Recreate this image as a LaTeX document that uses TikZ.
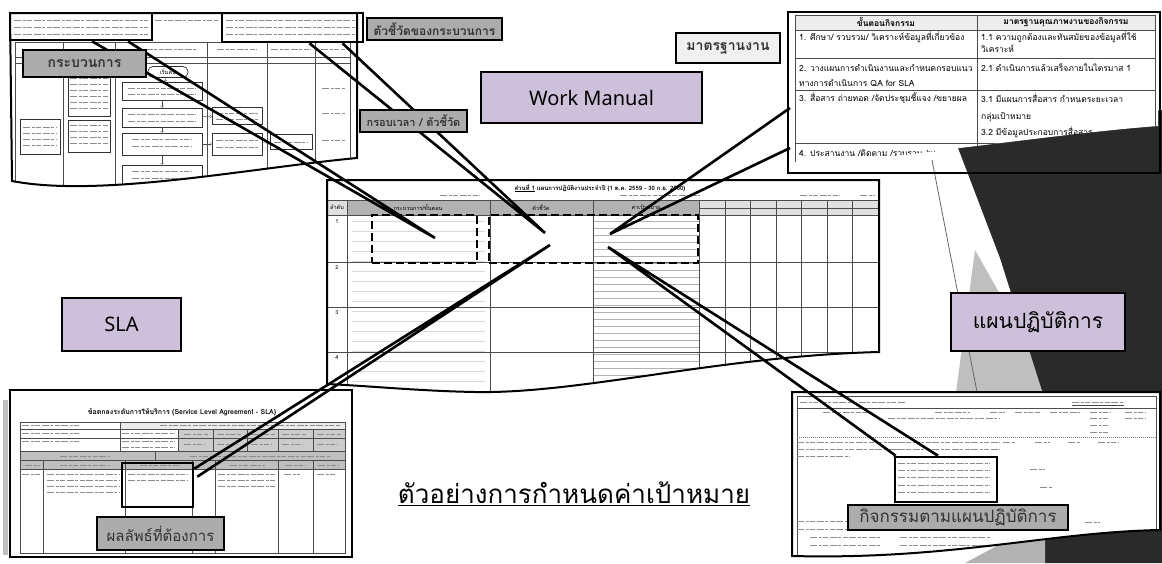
\documentclass[tikz,border=0pt]{standalone}
\usepackage{fontspec}
\setmainfont{Noto Sans}
\newfontfamily\thai[Script=Thai]{Loma}
\usetikzlibrary{positioning}

\definecolor{lavender}{RGB}{205,192,218}
\definecolor{labelgray}{RGB}{172,172,172}
\definecolor{slidedark}{RGB}{42,42,42}

\tikzset{
  docframe/.style={draw=black,line width=2pt},
  hlbox/.style={draw=black,line width=2.6pt,inner sep=0pt},
  dashbox/.style={draw=black,line width=2.2pt,dash pattern=on 8pt off 4pt,inner sep=0pt},
  graylabel/.style={draw=black,line width=2pt,fill=labelgray,inner sep=0pt,text=black!80},
  purplebox/.style={draw=black,line width=1.3pt,fill=lavender,inner sep=0pt},
  pointer/.style={draw=black,line width=2.6pt},
  rule/.style={black!70,line width=0.5pt},
  flowbox/.style={draw=black!80,line width=0.7pt,inner sep=0pt},
  scrawl/.style={black!45,line width=0.8pt,dash pattern=on 7pt off 1.5pt on 3pt off 1.5pt on 5pt off 1.5pt},
  fineprint/.style={inner sep=0pt,font=\thai\fontsize{5.5}{6}\selectfont},
  cell/.style={inner sep=0pt,anchor=west,font=\thai\fontsize{8.5}{9}\selectfont},
}

% rows of unreadable print: x from, x to, list of y
\newcommand{\scanlines}[3]{\foreach \yy in {#3}{\draw[scrawl] (#1,\yy) -- (#2,\yy);}}

\begin{document}
\begin{tikzpicture}[x=1pt,y=-1pt]
  \useasboundingbox (0,0) rectangle (1162,563);
  \fill[white] (0,0) rectangle (1162,563);

  % Slide background on the right.
  \fill[black!25] (975,250) -- (1060,400) -- (955,400) -- cycle;
  \fill[slidedark] (955,140) -- (1162,110) -- (1162,563) -- (1045,563) -- (1045,400) -- (1000,258) -- cycle;
  \fill[black!30] (965,563) -- (1045,563) -- (1045,520) -- cycle;
  \draw[black!60,line width=0.8pt] (932,160) -- (977,392);

  % Workflow sheet.
  \def\flowsheet{(10,13) -- (357,13) -- (357,158) .. controls (250,168) and (100,198) .. (12,181) -- cycle}
  \fill[white] \flowsheet;
  \begin{scope}
    \clip \flowsheet;
    \foreach \x in {15,63,115,207,267,315,350}
      \draw[rule] (\x,42) -- (\x,200);
    \foreach \y in {42,57,63}
      \draw[rule] (15,\y) -- (350,\y);
    \scanlines{14}{148}{20,27,34}
    \scanlines{226}{358}{20,27,34}
    \scanlines{155}{218}{20}
    \foreach \x/\w in {39/14,89/18,161/35,237/20,291/20,333/12}
      \draw[scrawl] (\x-\w,49) -- (\x+\w,49);
    \node[flowbox,rounded corners=5pt,minimum width=40pt,minimum height=11pt,fineprint] (start) at (168,72) {เริ่มต้น};
    \foreach \y/\h [count=\i] in {91/18,117.5/19,144/22,178/26}
      \node[flowbox,minimum width=80pt,minimum height=\h pt] (task\i) at (162,\y) {};
    \draw[->,black!70] (start) -- (task1);
    \draw[->,black!70] (task1) -- (task2);
    \draw[->,black!70] (task2) -- (task3);
    \draw[->,black!70] (task3) -- (task4);
    \scanlines{128}{196}{88,94}
    \scanlines{128}{196}{114,121}
    \scanlines{132}{192}{139,146}
    \scanlines{132}{192}{171,178}
    \node[flowbox,minimum width=50pt,minimum height=17pt] (out1) at (237,116) {};
    \node[flowbox,minimum width=50pt,minimum height=22pt] (out2) at (237,144) {};
    \node[flowbox,minimum width=42pt,minimum height=15pt] (cond1) at (291,142) {};
    \draw[->,black!70] (task2) -- (out1);
    \draw[->,black!70] (task3) -- (out2);
    \draw[->,black!70] (out2) -- (cond1);
    \scanlines{216}{258}{113,119}
    \scanlines{216}{258}{140,147}
    \scanlines{274}{308}{142}
    \node[flowbox,minimum width=40pt,minimum height=35pt] (input) at (40,137) {};
    \scanlines{23}{57}{127,133,139,145}
    \draw[flowbox] (68,72) rectangle (110,116);
    \scanlines{70}{108}{78,84,90,96,102,108}
    \draw[flowbox] (68,120) rectangle (110,152);
    \scanlines{70}{108}{125,131,137,143}
    \scanlines{322}{345}{88,113,140}
  \end{scope}
  \draw[docframe] \flowsheet;

  % Standards sheet.
  \def\stdsheet{(790,13) -- (1158,13) -- (1158,126) .. controls (1040,135) and (900,160) .. (792,162) -- cycle}
  \fill[white] \stdsheet;
  \begin{scope}
    \clip \stdsheet;
    \fill[black!7] (795,15) rectangle (1155,30);
    \draw[rule] (795,15) rectangle (1155,200);
    \foreach \y in {30,58,90,143}
      \draw[rule] (795,\y) -- (1155,\y);
    \draw[rule] (977,15) -- (977,200);
    \node[cell,anchor=center,font=\thai\bfseries\fontsize{8.5}{9}\selectfont] (stdHeadA) at (886,22.5) {ขั้นตอนกิจกรรม};
    \node[cell,anchor=center,font=\thai\bfseries\fontsize{8.5}{9}\selectfont] (stdHeadB) at (1066,22.5) {มาตรฐานคุณภาพงานของกิจกรรม};
    \node[cell] (stdA1) at (799,37) {1. ศึกษา/ รวบรวม/ วิเคราะห์ข้อมูลที่เกี่ยวข้อง};
    \node[cell] (stdB1) at (981,37) {1.1 ความถูกต้องและทันสมัยของข้อมูลที่ใช้};
    \node[cell] (stdB1b) at (981,49) {วิเคราะห์};
    \node[cell] (stdA2) at (799,68) {2. วางแผนการดำเนินงานและกำหนดกรอบแนว};
    \node[cell] (stdA2b) at (799,83) {ทางการดำเนินการ QA for SLA};
    \node[cell] (stdB2) at (981,68) {2.1 ดำเนินการแล้วเสร็จภายในไตรมาส 1};
    \node[cell] (stdA3) at (799,98) {3. สื่อสาร ถ่ายทอด /จัดประชุมชี้แจง /ขยายผล};
    \node[cell] (stdB3) at (981,98) {3.1 มีแผนการสื่อสาร กำหนดระยะเวลา};
    \node[cell] (stdB3b) at (981,117) {กลุ่มเป้าหมาย};
    \node[cell] (stdB3c) at (981,132) {3.2 มีข้อมูลประกอบการสื่อสาร};
    \node[cell] (stdA4) at (799,153) {4. ประสานงาน /ติดตาม /รวบรวม /ผลการดำเนินงาน};
  \end{scope}
  \draw[docframe] (788,12) rectangle (1160,173);

  % Annual plan sheet.
  \def\plansheet{(327,180) -- (879,180) -- (879,352) .. controls (720,356) and (580,394) .. (475,392) .. controls (420,391) and (370,386) .. (327,384) -- cycle}
  \fill[white] \plansheet;
  \begin{scope}
    \clip \plansheet;
    \fill[black!30] (347,200) rectangle (699,215);
    \fill[black!12] (327,200) rectangle (347,215) (699,200) rectangle (879,215);
    \foreach \y in {221,228,...,400}
      \draw[black!30,line width=0.4pt] (593,\y) -- (699,\y);
    \foreach \y in {221,231,...,400}
      \draw[black!15,line width=0.6pt] (352,\y) -- (485,\y);
    \foreach \x in {347,490,593,699,725,750,776,801,827,852}
      \draw[rule] (\x,200) -- (\x,400);
    \foreach \y in {200,215,262,307,352}
      \draw[rule] (327,\y) -- (879,\y);
    \draw[rule] (699,208) -- (879,208);
    \node[fineprint,font=\thai\bfseries\fontsize{6}{6}\selectfont] (planTitle) at (600,188) {\underline{ส่วนที่ 1} แผนการปฏิบัติงานประจำปี (1 ต.ค. 2559 - 30 ก.ย. 2560)};
    \scanlines{440}{480}{195}
    \scanlines{620}{700}{195}
    \scanlines{800}{840}{195}
    \scanlines{860}{875}{195}
    \node[fineprint] (hNo) at (337,207.5) {ลำดับ};
    \node[fineprint] (hProc) at (418,207.5) {กระบวนการ/ขั้นตอน};
    \node[fineprint] (hKpi) at (541,207.5) {ตัวชี้วัด};
    \node[fineprint] (hTarget) at (646,207.5) {ค่าเป้าหมาย};
    \foreach \y/\n in {222/1,268/2,313/3,358/4}
      \node[fineprint] (row\n) at (337,\y) {\n};
  \end{scope}
  \draw[docframe] \plansheet;
  \node[dashbox,minimum width=105pt,minimum height=48pt] (dashA) at (424.5,239) {};
  \node[dashbox,minimum width=209pt,minimum height=48pt] (dashB) at (593.5,239) {};

  % Service level agreement sheet.
  \fill[black!25] (3,400) rectangle (8,555);
  \draw[docframe,fill=white] (10,390) rectangle (352,557);
  \node[fineprint,font=\thai\bfseries\fontsize{7}{7}\selectfont] (slaTitle) at (182,412) {ข้อตกลงระดับการให้บริการ (Service Level Agreement - SLA)};
  \fill[black!20] (178,429) rectangle (345,451);
  \fill[black!25] (20,451) rectangle (345,469);
  \fill[black!8] (120,422) rectangle (345,429);
  \draw[rule] (20,422) rectangle (345,553);
  \foreach \y in {429,438,451,460,469}
    \draw[rule] (20,\y) -- (345,\y);
  \draw[rule] (120,422) -- (120,451);
  \foreach \x in {178,213,247,278,313}
    \draw[rule] (\x,429) -- (\x,451);
  \draw[rule] (155,451) -- (155,460);
  \foreach \x in {43,125,192,215,278,313}
    \draw[rule] (\x,460) -- (\x,553);
  \scanlines{22}{80}{425,433,441}
  \scanlines{122}{175}{433,441,447}
  \scanlines{160}{340}{425}
  \foreach \x in {184,217,251,282,317}
    \draw[scrawl] (\x,434) -- (\x+24,434) (\x,444) -- (\x+20,444);
  \scanlines{60}{110}{456}
  \scanlines{190}{330}{456}
  \foreach \x/\w in {25/15,60/50,140/40,230/35,285/20,318/20}
    \draw[scrawl] (\x,465) -- (\x+\w,465);
  \scanlines{22}{40}{474}
  \scanlines{47}{120}{474,480,486,492}
  \scanlines{128}{188}{474,480}
  \scanlines{218}{275}{474,480,486}
  \scanlines{284}{300}{474}
  \scanlines{317}{335}{474}

  % Action plan sheet.
  \def\actsheet{(792,392) -- (1160,392) -- (1160,530) .. controls (1050,532) and (950,560) .. (792,556) -- cycle}
  \fill[white] \actsheet;
  \begin{scope}
    \clip \actsheet;
    \draw[rule] (797,396) rectangle (1156,600);
    \draw[rule] (797,408) -- (1156,408);
    \draw[black!50,dash pattern=on 1pt off 1pt] (797,437) -- (1156,437);
    \scanlines{800}{905}{402}
    \scanlines{1072}{1124}{402}
    \draw[black!70] (1072,405) -- (1124,405);
    \foreach \x/\w in {823/47,935/35,990/15,1015/25,1050/30,1090/20,1125/20}
      \draw[scrawl] (\x,412) -- (\x+\w,412);
    \scanlines{888}{1000}{418}
    \scanlines{1090}{1108}{418,425,432}
    \scanlines{1125}{1145}{418}
    \scanlines{797}{905}{442,449}
    \scanlines{797}{850}{456}
    \scanlines{893}{1000}{442,449}
    \scanlines{893}{935}{456}
    \foreach \x/\w in {1003/12,1035/15,1068/12,1098/20}
      \draw[scrawl] (\x,442) -- (\x+\w,442);
    \scanlines{898}{990}{463,470,477,485,492}
    \scanlines{1030}{1045}{469}
    \scanlines{1040}{1052}{487}
    \scanlines{797}{890}{521,529}
    \scanlines{810}{880}{537,545}
    \scanlines{900}{990}{537,545}
    \scanlines{1085}{1100}{522}
  \end{scope}
  \draw[docframe] \actsheet;

  % Highlights on the sheets.
  \node[hlbox,minimum width=142pt,minimum height=27pt] (boxA) at (81,26.5) {};
  \node[hlbox,minimum width=141pt,minimum height=29pt] (boxB) at (292.5,27.5) {};
  \node[hlbox,minimum width=71pt,minimum height=44pt] (hlS) at (157.5,485) {};
  \node[hlbox,minimum width=102pt,minimum height=45pt] (hlR) at (946,479.5) {};

  % Pointers into the plan sheet.
  \coordinate (pA) at (435,238);
  \coordinate (pB) at (545,233);
  \coordinate (pC) at (610,234);
  \coordinate (pD) at (550,245);
  \coordinate (pE) at (608,247);
  \coordinate (stdEdgeA) at (790,108);
  \coordinate (stdEdgeB) at (790,148);
  \draw[pointer] ([xshift=11pt]boxA.south) -- (pA) ([xshift=47pt]boxA.south) -- (pA);
  \draw[pointer] ([xshift=17pt]boxB.south) -- (pB) ([xshift=50pt]boxB.south) -- (pB);
  \draw[pointer] (stdEdgeA) -- (pC) (stdEdgeB) -- (pC);
  \draw[pointer] (pD) -- ([yshift=-7pt]hlS.north east) (pD) -- ([xshift=3pt,yshift=-15pt]hlS.north east);
  \draw[pointer] (pE) -- ([xshift=2pt]hlR.north west) (pE) -- ([xshift=-8pt]hlR.north);

  % Labels.
  \node[graylabel,minimum width=123pt,minimum height=27pt,font=\thai\bfseries\fontsize{14}{14}\selectfont] (labProc) at (84.5,63.5) {กระบวนการ};
  \node[graylabel,minimum width=135pt,minimum height=22pt,font=\thai\bfseries\fontsize{12}{12}\selectfont] (labKpi) at (434.5,29) {ตัวชี้วัดของกระบวนการ};
  \node[graylabel,minimum width=107pt,minimum height=22pt,font=\thai\bfseries\fontsize{11}{11}\selectfont] (labTime) at (413.5,121) {กรอบเวลา / ตัวชี้วัด};
  \node[graylabel,minimum width=104pt,minimum height=30pt,fill=black!6,font=\thai\bfseries\fontsize{14}{14}\selectfont] (labStd) at (728,48) {มาตรฐานงาน};
  \node[graylabel,minimum width=127pt,minimum height=33pt,font=\thai\fontsize{15}{15}\selectfont] (labResult) at (160.5,533.5) {ผลลัพธ์ที่ต้องการ};
  \node[graylabel,minimum width=220pt,minimum height=25pt,font=\thai\fontsize{17}{17}\selectfont] (labAct) at (958,517.5) {กิจกรรมตามแผนปฏิบัติการ};

  \node[purplebox,minimum width=221pt,minimum height=51pt,font=\fontsize{20}{20}\selectfont] (workManual) at (591.5,97.5) {Work Manual};
  \node[purplebox,minimum width=119pt,minimum height=53pt,font=\fontsize{20}{20}\selectfont] (slaBox) at (121.5,324.5) {SLA};
  \node[purplebox,minimum width=174pt,minimum height=58pt,font=\thai\fontsize{21}{21}\selectfont] (planBox) at (1038,322) {แผนปฏิบัติการ};

  \node[inner sep=0pt,font=\thai\fontsize{26}{26}\selectfont] (caption) at (574,494) {\underline{ตัวอย่างการกำหนดค่าเป้าหมาย}};
\end{tikzpicture}
\end{document}
